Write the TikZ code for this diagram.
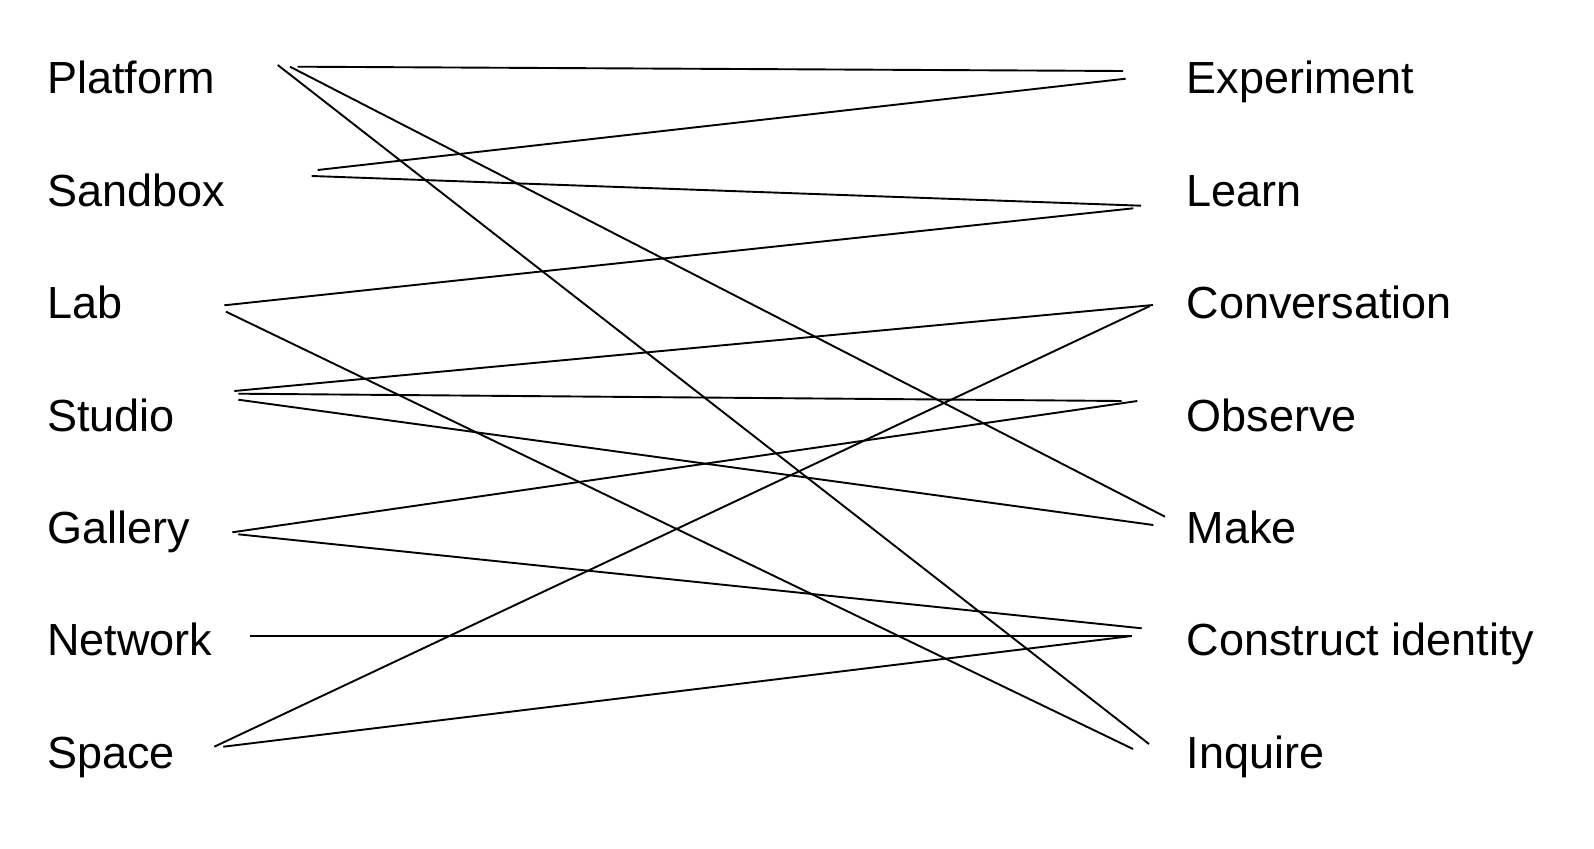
\documentclass[tikz,border=0pt]{standalone}
\usepackage{fontspec}
\setmainfont{Liberation Sans}
\begin{document}
\begin{tikzpicture}[x=1pt,y=-1pt,
  lbl/.style={anchor=base west,inner sep=0pt,font=\fontsize{45}{54}\selectfont},
  link/.style={line width=1.9pt,black}]
\useasboundingbox[fill=white] (0,0) rectangle (1594,848);
% left labels
\node[lbl] (platform) at (47,93.8) {Platform};
\node[lbl] (sandbox) at (47,206.2) {Sandbox};
\node[lbl] (lab) at (47,318.6) {Lab};
\node[lbl] (studio) at (47,431) {Studio};
\node[lbl] (gallery) at (47,543.4) {Gallery};
\node[lbl] (network) at (47,655.8) {Network};
\node[lbl] (space) at (47,768.2) {Space};
% right labels
\node[lbl] (experiment) at (1186.5,93.8) {Experiment};
\node[lbl] (learn) at (1186.5,206.2) {Learn};
\node[lbl] (conversation) at (1186.5,318.6) {Conversation};
\node[lbl] (observe) at (1186.5,431) {Observe};
\node[lbl] (make) at (1186.5,543.4) {Make};
\node[lbl] (construct) at (1186.5,655.8) {Construct identity};
\node[lbl] (inquire) at (1186.5,768.2) {Inquire};
% endpoints
\coordinate (pA) at (277.7,65);
\coordinate (pB) at (290,66.7);
\coordinate (pC) at (297.7,66.7);
\coordinate (sA) at (317.7,170);
\coordinate (sB) at (311.7,176);
\coordinate (lA) at (224.3,305.3);
\coordinate (lB) at (226,311.7);
\coordinate (stA) at (234.3,391);
\coordinate (stB) at (238.3,393.7);
\coordinate (stC) at (238.3,399.7);
\coordinate (gA) at (232.3,532.3);
\coordinate (gB) at (238.3,534.3);
\coordinate (nA) at (250,636);
\coordinate (spA) at (214.3,746.7);
\coordinate (spB) at (223.3,746.7);
\coordinate (eA) at (1123,71);
\coordinate (eB) at (1125.7,78.7);
\coordinate (leA) at (1141,205.7);
\coordinate (leB) at (1133.3,208.3);
\coordinate (cA) at (1153,305);
\coordinate (cB) at (1150,306);
\coordinate (oA) at (1121.7,401);
\coordinate (oB) at (1137.3,401);
\coordinate (mA) at (1165,516.7);
\coordinate (mB) at (1153.3,525);
\coordinate (ciA) at (1141.7,628.3);
\coordinate (ciB) at (1131.7,636);
\coordinate (iA) at (1149,744);
\coordinate (iB) at (1133,749);
% connectors
\draw[link] (pA) -- (iA);
\draw[link] (pB) -- (mA);
\draw[link] (pC) -- (eA);
\draw[link] (sA) -- (eB);
\draw[link] (sB) -- (leA);
\draw[link] (lA) -- (leB);
\draw[link] (lB) -- (iB);
\draw[link] (stA) -- (cA);
\draw[link] (stB) -- (oA);
\draw[link] (stC) -- (mB);
\draw[link] (gA) -- (oB);
\draw[link] (gB) -- (ciA);
\draw[link] (nA) -- (ciB);
\draw[link] (spA) -- (cB);
\draw[link] (spB) -- (ciB);
\end{tikzpicture}
\end{document}
